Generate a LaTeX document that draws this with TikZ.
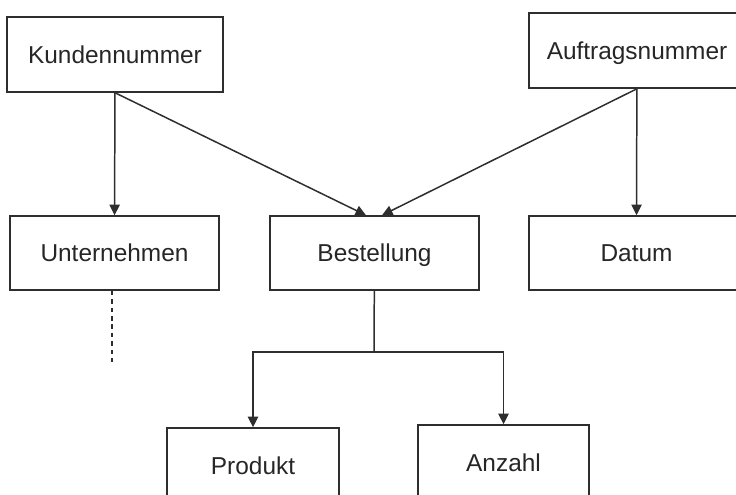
\documentclass[tikz,border=0pt]{standalone}
\usepackage{fontspec}
\setmainfont{Liberation Sans}
\usetikzlibrary{arrows.meta}
\definecolor{linegray}{HTML}{2E2E2E}
\begin{document}
\begin{tikzpicture}[x=0.02cm,y=-0.02cm,
                        line width=0.85pt,draw=linegray,
                        entity/.style={rectangle,draw=linegray,inner sep=0pt,minimum height=1.5cm,
                                       text depth=0pt,
                                       font=\fontsize{13.9}{16}\selectfont,text=black!85},
                        link/.style={-{Triangle[length=6pt,width=5.8pt]}}
                       ]
      \useasboundingbox (0,0) rectangle (736,494);
      \clip (0,0) rectangle (736,494);
      \node[entity,minimum width=4.32cm] (kunde) at (115,54.5) {Kundennummer};
      \node[entity,minimum width=4.32cm] (auftrag) at (637,50.5) {Auftragsnummer};
      \node[entity,minimum width=4.18cm,minimum height=1.48cm] (firma) at (114.5,253) {Unternehmen};
      \node[entity,minimum width=4.18cm,minimum height=1.48cm] (best) at (374.5,253) {Bestellung};
      \node[entity,minimum width=4.3cm,minimum height=1.48cm] (datum) at (636.5,253) {Datum};
      \node[entity,minimum width=3.44cm] (prod) at (253,465.5) {Produkt};
      \node[entity,minimum width=3.42cm] (anz) at (503.5,462.5) {Anzahl};
      \coordinate (split) at (374,352);
      \coordinate (dashend) at (112,362);
      \path[link]%
        (kunde) edge (firma)
        (kunde.south) edge ([xshift=-0.17cm]best.north)
        (auftrag.south) edge ([xshift=0.15cm]best.north)
        (auftrag) edge (datum.north);
      \draw (best) -- (split);
      \draw[link] (split) -| (prod);
      \draw[link] (split) -| (anz);
      \draw[dashed,dash pattern=on 2.6pt off 2.2pt] (dashend |- firma.south) -- (dashend);
 \end{tikzpicture}
\end{document}
